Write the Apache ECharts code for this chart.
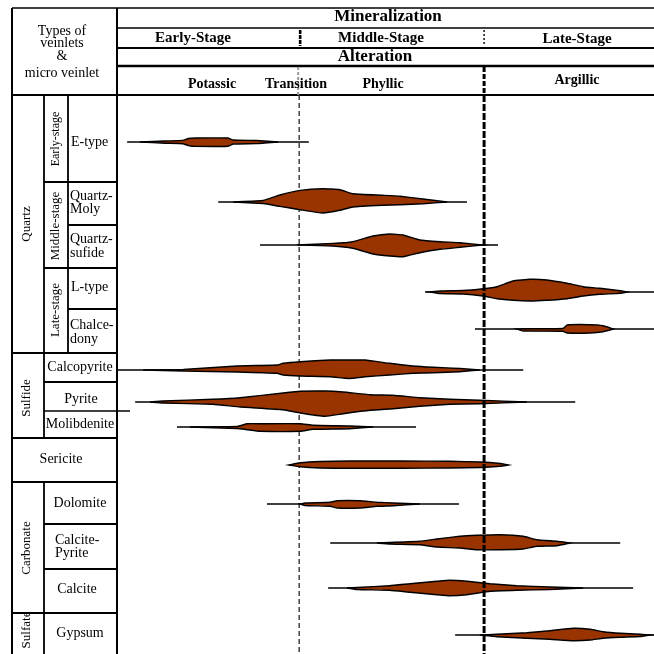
<!DOCTYPE html>
<html><head><meta charset="utf-8">
<script src="https://cdn.jsdelivr.net/npm/echarts/dist/echarts.min.js"></script>
<style>html,body{margin:0;padding:0;background:#fff}#c{width:654px;height:654px}</style>
</head><body><div id="c"></div>
<script>
// ---- data ----
const minerals = ['E-type','Quartz-Moly','Quartz-sufide','L-type','Chalcedony','Calcopyrite','Pyrite','Molibdenite','Sericite','Dolomite','Calcite-Pyrite','Calcite','Gypsum'];
// row centre on the vertical (row) scale
const rowY = [47,107,150,197,234,275,307,332,370,409,448,493,540];
// extent of the thin occurrence line (relative time 0-100)
const lineRange = [[1.7,35.6],[18.7,65.1],[26.5,70.9],[57.3,100],[66.6,100],[0,75.6],[3.2,85.3],[11.0,55.6],[31.9,72.8],[27.8,63.6],[39.6,93.7],[39.2,96.1],[62.9,100]];
// abundance profiles: [time, upper thickness, lower thickness]
const etype = [[4.1,0,0],[8.8,1,1.2],[12.1,1.6,1.7],[13.1,3.5,3.5],[14.5,4,4.4],[20.5,4,4.2],[21.5,2,2],[25.9,1.5,1.6],[29.9,0,0]];
const qzMoly = [[21.5,0,0],[27.1,1.5,1.5],[30.2,7,4.4],[34.0,11.6,7.7],[38.2,13.3,11],[41.4,12.3,8.3],[43.8,8.3,5],[49.4,6.7,3.3],[52.6,5.7,2.7],[56.9,3,1.7],[61.4,0,0]];
const qzSulf = [[33.4,0,0],[40.1,1.5,1],[43.8,3.3,3.3],[47.6,9,9],[50.7,11,11],[53.2,10,11.7],[56.3,5,7.7],[60.1,3.3,4.3],[63.8,2.3,2.3],[68.1,0,0]];
const ltype = [[58.2,0,0],[60.1,1,1.5],[64.4,1.5,2],[68.1,3.3,4],[70.7,5.3,6.7],[73.7,11,8.3],[76.9,12.7,9],[80.0,12,8.3],[83.8,8.7,6.7],[86.8,5.3,4],[89.9,3.7,2.3],[93.7,1.3,1.3],[95.0,0,0]];
const chalc = [[74.4,0,0],[75.6,0.3,2],[83.0,0.5,2.3],[83.8,4,4],[88.1,4.3,4],[90.5,3.3,2.7],[92.4,0,0]];
const calcop = [[4.7,0,0],[12.2,0.5,1],[22.2,4,2],[29.7,5,3.3],[30.8,6.7,5],[34.0,8.3,6],[39.6,10,6.7],[42.4,10,8.3],[43.8,10,8.3],[46.1,10,6.7],[50.7,6.7,5],[55.0,4,3.3],[58.8,2.7,2.7],[63.8,1.5,1.7],[67.5,0,0]];
const pyrite = [[6.0,0,0],[8.4,1,1],[17.7,2.7,2.3],[22.8,4.3,5],[30.8,9,7.7],[34.0,10.7,11],[38.6,11,14.3],[42.0,10,11.7],[47.0,7.3,8.3],[51.3,6.7,6.7],[56.3,4.3,4.3],[61.9,2.7,2.3],[67.5,1.7,1.7],[76.3,0,0]];
const molib = [[13.4,0,0],[22.2,0.5,1.5],[24.1,3.3,2.7],[26.5,3.3,4.3],[34.0,3.3,4.3],[36.4,1.7,2.3],[43.3,1,1.7],[47.6,0,0]];
const sericite = [[31.9,0,0],[34.0,2.2,1.8],[37.7,3.5,3],[43.3,4,3.3],[52.6,4,3.3],[61.9,3.7,3],[67.5,3,2.5],[71.3,1.5,1.2],[72.8,0,0]];
const dolomite = [[34.0,0,0],[34.9,1,1.5],[39.6,1.7,2.3],[40.9,3.3,4],[45.1,3.3,4],[48.3,1.7,2.3],[51.3,1,1.7],[56.3,0,0]];
const calcPyr = [[48.3,0,0],[50.7,0.5,1],[56.3,1.7,1.7],[59.5,4,4],[63.8,6.7,5],[67.0,7.7,6.7],[71.3,8.3,6.7],[75.6,6.7,6],[78.2,3.3,3.3],[81.9,1.7,2.7],[84.3,0,0]];
const calcite = [[42.7,0,0],[44.6,0.5,1.5],[50.7,2.3,2.3],[54.5,4.3,4.3],[59.5,6.7,6.7],[61.9,7.7,7.7],[65.1,6.7,6.7],[69.4,4.3,3.3],[74.4,2.3,2.3],[80.6,1,1.5],[86.8,0,0]];
const gypsum = [[67.5,0,0],[70.7,0.7,1.7],[76.3,2.3,3.3],[80.6,4.3,4.3],[84.9,6.7,5.7],[88.1,5.7,5],[90.5,3.3,3.3],[93.7,1.7,2.3],[97.4,0.7,1.5],[99.3,0,0]];
const profiles = [etype,qzMoly,qzSulf,ltype,chalc,calcop,pyrite,molib,sericite,dolomite,calcPyr,calcite,gypsum];
const transitionX = 33.8;   // potassic / phyllic transition
const argillicX = 68.3;     // phyllic / argillic boundary

// ---- chart ----
const SERIF = '"Liberation Serif","DejaVu Serif",serif';
const chart = echarts.init(document.getElementById('c'), null, {renderer:'canvas'});

function spindle(params, api){
  const i = params.dataIndex, y = rowY[i], prof = profiles[i];
  const top = prof.map(p => api.coord([p[0], y - p[1]]));
  const bot = prof.slice().reverse().map(p => api.coord([p[0], y + p[2]]));
  const a = api.coord([lineRange[i][0], y]), b = api.coord([lineRange[i][1], y]);
  return {type:'group', children:[
    {type:'line', shape:{x1:a[0],y1:a[1],x2:b[0],y2:b[1]}, style:{stroke:'#000',lineWidth:1.7}},
    {type:'polygon', shape:{points:top.concat(bot), smooth:0.12}, style:{fill:'#993300',stroke:'#000',lineWidth:1.4}}
  ]};
}

chart.setOption({
  animation:false,
  grid:{left:118,right:0,top:95,bottom:0},
  xAxis:{type:'value',min:0,max:100,show:false},
  yAxis:{type:'value',min:0,max:559,inverse:true,show:false},
  series:[
    {type:'line', z:1, symbol:'none', data:[[transitionX,0],[transitionX,559]],
     lineStyle:{color:'#333',width:1.4,type:[5,3]}},
    {type:'custom', z:2, renderItem:spindle, clip:false,
     data:minerals.map((m,i)=>({name:m, value:[lineRange[i][0], rowY[i]]}))},
    {type:'line', z:3, symbol:'none', data:[[argillicX,0],[argillicX,559]],
     lineStyle:{color:'#000',width:3,type:[7,2]}}
  ]
});

// ---- table / header graphics ----
const g = [];
function ln(x1,y1,x2,y2,w,extra){ g.push(Object.assign({type:'line',shape:{x1,y1,x2,y2},style:{stroke:'#000',lineWidth:w||1.8}},extra||{})); }
function tx(t,x,y,font,align,rot){ g.push({type:'text',x,y,rotation:rot||0,style:{text:t,x:0,y:0,font:font,fill:'#000',textAlign:align||'center',align:align||'center',textVerticalAlign:'middle',verticalAlign:'middle'}}); }

// header frame
ln(12,8,654,8,1.6); ln(117,28,654,28,1.6); ln(117,48,654,48,2); ln(117,66,654,66,2.6); ln(12,95,654,95,2.2);
ln(12,8,12,654,2); ln(117,8,117,654,2);
// table rows
const rowLines = [[182,44],[225,68],[268,44],[309,68],[353,12],[382,44],[438,12],[482,12],[524,44],[569,44],[613,12]];
rowLines.forEach(r=>ln(r[1],r[0],117,r[0],1.8));
ln(44,411,130,411,1.6);
ln(44,95,44,438,1.8); ln(44,482,44,654,1.8); ln(68,95,68,353,1.8);

// header separators
const px1 = chart.convertToPixel({gridIndex:0},[transitionX,0])[0];
const px2 = chart.convertToPixel({gridIndex:0},[argillicX,0])[0];
ln(px1+1,30,px1+1,46,2.6,{style:{stroke:'#000',lineWidth:2.6,lineDash:[4,1]}});
ln(px2,30,px2,46,1.4,{style:{stroke:'#000',lineWidth:1.4,lineDash:[2,2]}});
ln(px1-1,67,px1-1,95,2,{style:{stroke:'#999',lineWidth:2,lineDash:[3,2]}});
ln(px2,67,px2,95,3,{style:{stroke:'#000',lineWidth:3,lineDash:[5,2]}});

// header texts
const HB17 = 'bold 17px '+SERIF, HB15 = 'bold 15px '+SERIF, HB14 = 'bold 14px '+SERIF, H14 = '14px '+SERIF;
tx('Mineralization',388,17,HB17); tx('Alteration',375,57,HB17);
tx('Early-Stage',193,38,HB15); tx('Middle-Stage',381,38,HB15); tx('Late-Stage',577,39,HB15);
tx('Potassic',212,84,HB14); tx('Transition',296,84,HB14); tx('Phyllic',383,84,HB14); tx('Argillic',577,80,HB14);
tx('Types of',62,31,H14); tx('veinlets',62,43,H14); tx('&',62,56,H14); tx('micro veinlet',62,73,H14);

// table texts
const R = Math.PI/2;
tx('Quartz',27,224,'13px '+SERIF,'center',R);
tx('Early-stage',56,139,'12px '+SERIF,'center',R);
tx('Middle-stage',56,226,'13px '+SERIF,'center',R);
tx('Late-stage',56,310,'13px '+SERIF,'center',R);
tx('Sulfide',27,398,'13px '+SERIF,'center',R);
tx('Carbonate',27,548,'13px '+SERIF,'center',R);
tx('Sulfate',27,630,'13px '+SERIF,'center',R);
tx('E-type',71,142,H14,'left');
tx('Quartz-',70,196,H14,'left'); tx('Moly',70,209,H14,'left');
tx('Quartz-',70,239,H14,'left'); tx('sufide',70,253,H14,'left');
tx('L-type',71,287,H14,'left');
tx('Chalce-',70,325,H14,'left'); tx('dony',70,339,H14,'left');
tx('Calcopyrite',80,367,H14); tx('Pyrite',81,399,H14); tx('Molibdenite',80,424,H14);
tx('Sericite',61,459,H14); tx('Dolomite',80,503,H14);
tx('Calcite-',55,540,H14,'left'); tx('Pyrite',55,553,H14,'left');
tx('Calcite',77,589,H14); tx('Gypsum',80,633,H14);

chart.setOption({graphic:{elements:g}});
</script></body></html>
